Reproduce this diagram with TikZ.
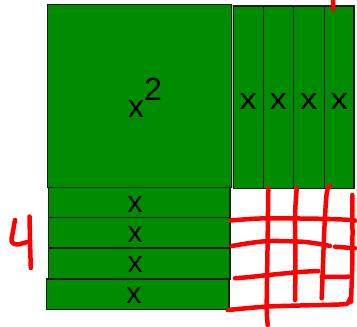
\documentclass[tikz,border=0pt]{standalone}
\usepackage{fontspec}
\setmainfont{Liberation Sans}
\definecolor{tilegreen}{RGB}{0,140,0}
\definecolor{tileedge}{RGB}{30,30,30}
\definecolor{penred}{RGB}{255,0,0}
\tikzset{
  tile/.style={draw=tileedge, line width=1.3pt, fill=tilegreen, rectangle, inner sep=0pt, outer sep=0pt, anchor=north west},
  lbl/.style={inner sep=0pt, font=\fontsize{30}{30}\selectfont},
  pen/.style={draw=penred, line width=4.5pt, line cap=round, line join=round}
}
\begin{document}
\begin{tikzpicture}[x=1pt,y=-1pt]
\useasboundingbox (0,0) rectangle (357,327);
% big square
\node[tile, minimum width=184pt, minimum height=183.2pt] (sq) at (47.7,4.5) {};
\node[lbl, font=\fontsize{32}{32}\selectfont, anchor=base] (sqlbl) at (145,117) {x\raisebox{17pt}{2}};
% vertical strips
\draw[gray!50, line width=0.8pt] (232.3,188) -- (232.3,5.3) -- (354.5,5.3);
\node[tile, minimum width=30pt, minimum height=182.3pt] (s1) at (233.3,6) {};
\node[tile, minimum width=30pt, minimum height=182.3pt] (s2) at (263.3,6) {};
\node[tile, minimum width=31pt, minimum height=182.3pt] (s3) at (293.3,6) {};
\node[tile, minimum width=29.7pt, minimum height=182.3pt] (s4) at (324.3,6) {};
\foreach \n in {s1,s2,s3,s4}{
  \node[lbl, xscale=1.15] (\n x) at ([yshift=-4.5pt]\n.center) {x};
}
% horizontal rows
\node[tile, minimum width=181.7pt, minimum height=30pt] (r1) at (48.3,187.7) {};
\node[tile, minimum width=181.7pt, minimum height=30.3pt] (r2) at (48.3,217.7) {};
\node[tile, minimum width=181.7pt, minimum height=31pt] (r3) at (48.3,248) {};
\node[tile, minimum width=182.3pt, minimum height=30.5pt] (r4) at (46.7,279) {};
\foreach \n in {r1,r2,r3,r4}{
  \node[lbl] (\n x) at ([xshift=-4pt,yshift=-1.5pt]\n.center) {x};
}
% red handwriting: 4
\draw[pen] plot[smooth, tension=0.6] coordinates {(15,220) (12.5,234) (11.5,241.5) (17,244.5) (27,242)};
\draw[pen] plot[smooth] coordinates {(29.5,216.5) (30,240) (30.8,268)};
% red top tick
\draw[pen] (333,0) -- (333.3,9);
% red grid horizontal
\draw[pen] plot[smooth] coordinates {(230.5,220.5) (250,219) (268,218.3) (300,218.5) (330,219) (351.7,220) (355,220.7)};
\draw[pen] plot[smooth] coordinates {(231.7,246) (250,243) (270,241) (301.7,241.7) (320,244) (330,246)};
\draw[pen] plot[smooth] coordinates {(335,246.7) (345,247.5) (355,248.3)};
\draw[pen] plot[smooth] coordinates {(235,278.3) (250,277) (268.3,275) (300,272) (318.3,271)};
\draw[pen] plot[smooth] coordinates {(321.7,276.7) (335,277) (348.3,276.7)};
\draw[pen] plot[smooth] coordinates {(227.7,310) (265,306.7) (300,305.5) (343,304.3) (348.5,302) (350,298.3)};
% red grid vertical
\draw[pen] plot[smooth] coordinates {(268.3,188.3) (267.5,250) (266.7,306.7) (267.7,325)};
\draw[pen] plot[smooth] coordinates {(296.7,188.3) (295,216.7) (295.5,260) (295,300)};
\draw[pen] plot[smooth] coordinates {(330,186) (326.7,193.3) (324.3,230) (323,265) (321.7,298.3)};
\draw[pen] plot[smooth] coordinates {(352.3,195) (352.5,230) (352.3,263.3) (351,301.7)};
\end{tikzpicture}
\end{document}
